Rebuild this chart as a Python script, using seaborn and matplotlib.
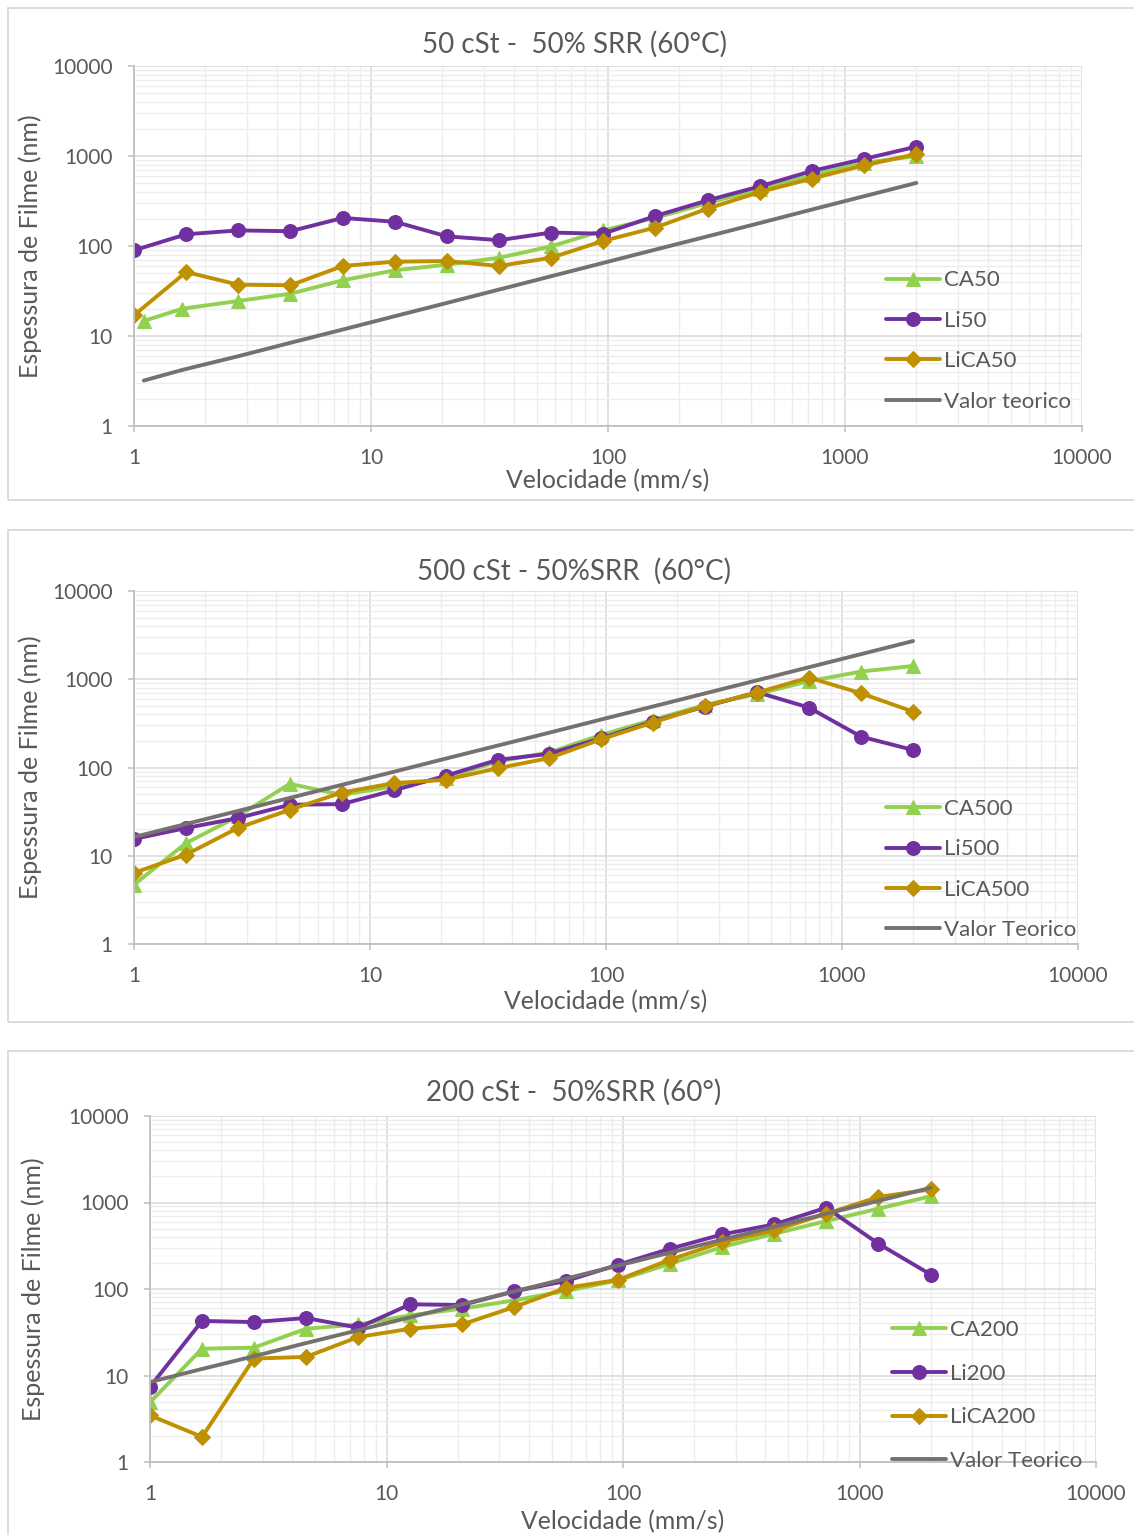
import matplotlib

matplotlib.use("Agg")
import matplotlib.pyplot as plt
import seaborn as sns
from matplotlib.patches import Rectangle
from matplotlib.ticker import FixedLocator, LogLocator, NullFormatter

# velocidades (mm/s)
speed = [1, 1.66, 2.75, 4.57, 7.6, 12.6, 20.9, 34.7, 57.5, 95.5, 158, 263, 437, 724, 1202, 2000]
speed_ca50 = [1.1, 1.6, 2.75, 4.57, 7.6, 12.6, 20.9, 34.7, 57.5, 95.5, 158, 263, 437, 724, 1202, 2000]

# === 50 cSt ===
ca50 = [14.7, 20.1, 24.5, 29.5, 41.6, 53.7, 62, 74, 99, 149, 205, 300, 425, 610, 840, 1000]
li50 = [89.5, 135, 149, 146, 205, 186, 128, 116, 141, 137, 215, 321, 460, 681, 926, 1270]
lica50 = [17, 51.4, 37.2, 36.6, 60, 67, 68, 60, 74, 114, 160, 260, 398, 560, 787, 1050]
teo50 = [3.2, 4.2, 5.96, 8.4, 11.8, 16.6, 23.3, 32.8, 46.1, 64.9, 91, 128, 180, 254, 357, 502]

# === 500 cSt ===
ca500 = [4.7, 13.9, 27.9, 65.3, 49, 61, 75.7, 117, 148, 234, 347, 512, 680, 950, 1222, 1415]
li500 = [15.5, 20.6, 26.7, 37.8, 38.5, 55, 80.5, 122, 143, 215, 332, 491, 713, 478, 224, 158]
lica500 = [6.4, 10.3, 20.6, 33.2, 52, 66.5, 72.5, 98, 128, 209, 323, 500, 706, 1045, 694, 430]
teo500 = [16.3, 22.9, 32.1, 45.2, 63.6, 89.4, 126, 177, 248, 350, 491, 692, 973, 1368, 1923, 2710]

# === 200 cSt ===
ca200 = [4.9, 20.4, 21, 34.7, 39, 49.6, 59.3, 74, 95, 126, 196, 306, 436, 611, 849, 1180]
li200 = [7.4, 42.7, 41.5, 46.2, 35.7, 66.5, 65.3, 94, 124, 191, 292, 428, 559, 872, 334, 147]
lica200 = [3.46, 1.95, 15.7, 16.4, 27.9, 34.7, 39, 62, 103, 128, 218, 349, 476, 743, 1158, 1420]
teo200 = [8.4, 11.9, 16.7, 23.7, 33.4, 47.1, 66.5, 93.8, 132, 187, 263, 372, 525, 741, 1045, 1479]

titles = ["50 cSt -  50% SRR (60°C)", "500 cSt - 50%SRR  (60°C)", "200 cSt -  50%SRR (60°)"]
teo_labels = ["Valor teorico", "Valor Teorico", "Valor Teorico"]
tick_vals = [1, 10, 100, 1000, 10000]
tick_text = ["1", "10", "100", "1000", "10000"]

GREEN = "#92D050"
PURPLE = "#7030A0"
GOLD = "#BF9000"
GREY = "#767171"
TXT = "#595959"

sns.set_theme(style="white")
plt.rcParams["font.family"] = ["Lato", "DejaVu Sans"]

W, H = 1134, 1535
fig = plt.figure(figsize=(W / 100, H / 100), dpi=100)


def px_axes(left, top, right, bottom):
    return fig.add_axes([left / W, 1 - bottom / H, (right - left) / W, (bottom - top) / H])


def panel_box(top, bottom):
    fig.patches.append(
        Rectangle((8 / W, 1 - bottom / H), (1150 - 8) / W, (bottom - top) / H,
                  transform=fig.transFigure, fill=False, edgecolor="#D9D9D9", linewidth=1.3)
    )


panels = [
    # axes box (px), frame, title y, xlabel pos, ylabel x, legend anchor/spacing, series
    dict(box=(134, 66, 1082, 426), frame=(8, 500), title_y=44, xlab=(608, 481), ylab_x=30,
         leg=(0.793, 0.236), sp=0.92,
         series=[(speed_ca50, ca50, "CA50"), (speed, li50, "Li50"), (speed, lica50, "LiCA50"),
                 (speed_ca50, teo50, teo_labels[0])]),
    dict(box=(134, 591, 1078, 944), frame=(530, 1022), title_y=571, xlab=(606, 1002), ylab_x=30,
         leg=(0.797, 0.211), sp=0.92,
         series=[(speed, ca500, "CA500"), (speed, li500, "Li500"), (speed, lica500, "LiCA500"),
                 (speed, teo500, teo_labels[1])]),
    dict(box=(150, 1116, 1096, 1462), frame=(1051, 1560), title_y=1092, xlab=(623, 1522), ylab_x=33,
         leg=(0.784, 0.192), sp=1.06,
         series=[(speed, ca200, "CA200"), (speed, li200, "Li200"), (speed, lica200, "LiCA200"),
                 (speed, teo200, teo_labels[2])]),
]

styles = [(GREEN, "^", 10), (PURPLE, "o", 10), (GOLD, "D", 8), (GREY, None, 0)]

for i, p in enumerate(panels):
    panel_box(*p["frame"])
    left, top, right, bottom = p["box"]
    ax = px_axes(left, top, right, bottom)

    for (xs, ys, lab), (col, mk, ms) in zip(p["series"], styles):
        kw = dict(marker=mk, markersize=ms, markeredgecolor=col, markerfacecolor=col) if mk else {}
        sns.lineplot(x=xs, y=ys, ax=ax, color=col, linewidth=2.8, label=lab,
                     sort=False, estimator=None, **kw)

    ax.set_xscale("log")
    ax.set_yscale("log")
    ax.set_xlim(1, 10000)
    ax.set_ylim(1, 10000)

    for axis in (ax.xaxis, ax.yaxis):
        axis.set_major_locator(FixedLocator(tick_vals))
        axis.set_minor_locator(LogLocator(base=10, subs=range(2, 10)))
        axis.set_minor_formatter(NullFormatter())
    ax.set_xticklabels(tick_text)
    ax.set_yticklabels(tick_text)

    ax.grid(which="major", color="#D9D9D9", linewidth=1.1)
    ax.grid(which="minor", color="#EDEDED", linewidth=1.0)
    ax.set_axisbelow(True)
    for s in ("top", "right"):
        ax.spines[s].set_visible(False)
    for s in ("left", "bottom"):
        ax.spines[s].set_color("#BFBFBF")
        ax.spines[s].set_linewidth(1.3)
    ax.tick_params(which="major", direction="out", length=4.5, width=1.1, color="#BFBFBF",
                   labelsize=15, labelcolor=TXT, bottom=True, left=True)
    ax.tick_params(axis="x", which="major", pad=11)
    ax.tick_params(axis="y", which="major", pad=11)
    ax.tick_params(which="minor", length=0)
    ax.set_xlabel("")
    ax.set_ylabel("")

    ax.legend(loc="center left", bbox_to_anchor=p["leg"], frameon=False, fontsize=16,
              labelcolor=TXT, handlelength=2.43, handletextpad=0.18, labelspacing=p["sp"],
              borderpad=0, borderaxespad=0, numpoints=1)

    fig.text(574 / W, 1 - p["title_y"] / H, titles[i], ha="center", va="center",
             fontsize=20, color=TXT)
    fig.text(p["xlab"][0] / W, 1 - p["xlab"][1] / H, "Velocidade (mm/s)", ha="center",
             va="center", fontsize=17.8, color=TXT)
    fig.text(p["ylab_x"] / W, 1 - ((top + bottom) / 2) / H, "Espessura de Filme (nm)",
             ha="center", va="center", rotation=90, fontsize=18, color=TXT)

fig.savefig("out.png", dpi=100, facecolor="white")
